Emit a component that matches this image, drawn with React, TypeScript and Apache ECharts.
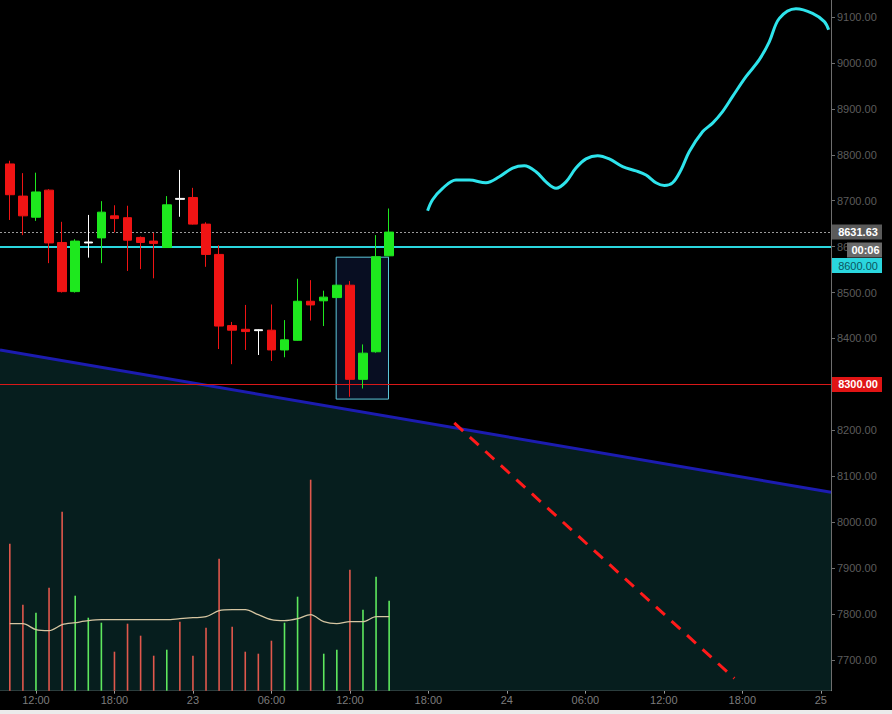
import React, { useEffect, useRef } from "react";
import * as echarts from "echarts";

// hours counted from 22nd 00:00
const HOURS = [10, 11, 12, 13, 14, 15, 16, 17, 18, 19, 20, 21, 22, 23, 24, 25, 26, 27, 28, 29, 30, 31, 32, 33, 34, 35, 36, 37, 38, 39];
const OPEN = [8780, 8710, 8664, 8723, 8609, 8502, 8610, 8619, 8667, 8663, 8620, 8612, 8598, 8705, 8707, 8649, 8583, 8428, 8420, 8419, 8418, 8375, 8396, 8481, 8482, 8489, 8516, 8311, 8371, 8580];
const CLOSE = [8713, 8667, 8719, 8608, 8502, 8612, 8608, 8675, 8661, 8614, 8609, 8607, 8691, 8703, 8649, 8583, 8427, 8418, 8415, 8417, 8375, 8397, 8481, 8473, 8490, 8516, 8311, 8368, 8578, 8631.63];
const LOW = [8658, 8625, 8656, 8564, 8500, 8500, 8576, 8564, 8631, 8547, 8551, 8531, 8597, 8665, 8648, 8556, 8377, 8344, 8375, 8364, 8351, 8359, 8395, 8439, 8427, 8488, 8273, 8291, 8369, 8579];
const HIGH = [8787, 8760, 8761, 8725, 8654, 8616, 8669, 8699, 8690, 8689, 8622, 8630, 8710, 8767, 8728, 8653, 8603, 8436, 8473, 8420, 8474, 8440, 8530, 8527, 8504, 8517, 8525, 8387, 8625, 8683];
const DOJI = [6, 13, 19];

const VOLUME = [147, 86, 78, 103, 179, 95, 73, 68, 39, 67, 55, 35, 41, 69, 35, 63, 132, 64, 39, 37, 50, 68, 94, 211, 37, 41, 121, 81, 114, 90];
const VOLUME_UP = [0, 0, 1, 0, 0, 1, 1, 1, 0, 0, 0, 0, 1, 0, 0, 0, 0, 0, 0, 0, 0, 1, 1, 0, 1, 1, 0, 1, 1, 1];
const VOLUME_MA = [67, 67, 61, 60, 66, 68, 70, 71, 71, 71, 71, 71, 71, 72, 73, 74, 80, 81, 81, 76, 71, 70, 72, 76, 69, 67, 69, 69, 74, 74];

const FORECAST_X = [41.94, 42.32, 43.09, 44.11, 45.13, 46.4, 47.42, 48.44, 49.33, 50.23, 50.99, 51.76, 52.52, 53.28, 54.05, 54.94, 55.83, 56.85, 57.87, 58.64, 59.4, 60.04, 60.67, 61.31, 61.95, 62.96, 63.73, 64.49, 65.26, 66.28, 67.3, 68.06, 68.83, 70.1, 71.37, 72.27, 72.6];
const FORECAST_Y = [8678, 8702, 8727, 8745, 8745, 8739, 8752, 8771, 8776, 8763, 8741, 8727, 8741, 8771, 8791, 8798, 8791, 8774, 8765, 8756, 8739, 8733, 8739, 8767, 8807, 8850, 8869, 8894, 8927, 8970, 9007, 9046, 9097, 9118, 9108, 9090, 9072];

const TREND_X = [9.25, 72.78];
const TREND_Y = [8375, 8065];
const PROJ_X = [43.98, 65.39];
const PROJ_Y = [8216, 7660];

const LAST_PRICE = 8631.63;
const ALERT_LEVEL = 8600;
const SUPPORT_LEVEL = 8300;
const TIMER = "00:06";
const BOX_X = [34.95, 38.95];
const BOX_Y = [8577, 8268];

const X_MIN = 9.25;
const X_MAX = 72.78;
const Y_MIN = 7633;
const Y_MAX = 9137;
const X_TICKS = [12, 18, 24, 30, 36, 42, 48, 54, 60, 66, 72];
const Y_TICKS = [7700, 7800, 7900, 8000, 8100, 8200, 8300, 8400, 8500, 8600, 8700, 8800, 8900, 9000, 9100];

const RED = "#f01414";
const GREEN = "#1ee81e";
const FONT = "'Liberation Sans', Arial, sans-serif";

function fmtHour(h: number): string {
  if (h % 24 === 0) return String(22 + h / 24);
  const hh = h % 24;
  return (hh < 10 ? "0" : "") + hh + ":00";
}

export default function App() {
  const ref = useRef<HTMLDivElement>(null);
  useEffect(() => {
    if (!ref.current) return;
    const chart = echarts.init(ref.current, null, { renderer: "svg" });

    const candleData = HOURS.map((h, i) => {
      const item: any = { value: [h, OPEN[i], CLOSE[i], LOW[i], HIGH[i]] };
      if (DOJI.includes(i)) {
        item.itemStyle = { color: "#ffffff", color0: "#ffffff", borderColor: "#ffffff", borderColor0: "#ffffff" };
      }
      return item;
    });
    const volData = HOURS.map((h, i) => ({
      value: [h, VOLUME[i]],
      itemStyle: { color: VOLUME_UP[i] ? "#5ee85e" : "#e0584c" },
    }));

    chart.setOption({
      animation: false,
      backgroundColor: "#000000",
      grid: { left: 0, top: 0, width: 831, height: 690.7 },
      xAxis: {
        type: "value",
        min: X_MIN,
        max: X_MAX,
        axisLine: { show: true, lineStyle: { color: "#9a9a9a", width: 1 } },
        axisTick: { show: true, customValues: X_TICKS, length: 3, lineStyle: { color: "#9a9a9a" } },
        axisLabel: {
          customValues: X_TICKS,
          formatter: (v: number) => fmtHour(v),
          color: "#7c7c7c",
          fontSize: 11,
          fontFamily: FONT,
          margin: 4,
        },
        splitLine: { show: false },
      },
      yAxis: [
        {
          type: "value",
          position: "right",
          min: Y_MIN,
          max: Y_MAX,
          axisLine: { show: true, lineStyle: { color: "#6e6e6e", width: 1 } },
          axisTick: { show: true, customValues: Y_TICKS, length: 4, lineStyle: { color: "#6e6e6e" } },
          axisLabel: {
            customValues: Y_TICKS,
            formatter: (v: number) => v.toFixed(2),
            color: "#5c5c5c",
            fontSize: 11,
            fontFamily: FONT,
            margin: 6,
          },
          splitLine: { show: false },
        },
        { type: "value", show: false, min: 0, max: 690.7 },
      ],
      series: [
        {
          type: "line",
          name: "trend",
          z: 1,
          data: TREND_X.map((x, i) => [x, TREND_Y[i]]),
          symbol: "none",
          lineStyle: { color: "#1c1cb0", width: 3 },
          areaStyle: { color: "#061e1e", opacity: 1, origin: "start" },
        },
        {
          type: "bar",
          name: "volume",
          yAxisIndex: 1,
          z: 2,
          barWidth: 1.6,
          data: volData,
        },
        {
          type: "line",
          name: "volumeMA",
          yAxisIndex: 1,
          z: 3,
          symbol: "none",
          smooth: 0.3,
          data: HOURS.map((h, i) => [h, VOLUME_MA[i]]),
          lineStyle: { color: "#d6c6a2", width: 1.3 },
        },
        {
          type: "candlestick",
          z: 5,
          barWidth: 9,
          data: candleData,
          itemStyle: { color: GREEN, color0: RED, borderColor: GREEN, borderColor0: RED, borderWidth: 1 },
          markArea: {
            silent: true,
            itemStyle: { color: "rgba(40,70,170,0.2)", borderColor: "#5ec8dc", borderWidth: 1 },
            data: [[{ coord: [BOX_X[0], BOX_Y[0]] }, { coord: [BOX_X[1], BOX_Y[1]] }]],
          },
        },
        {
          type: "line",
          name: "levels",
          z: 6,
          data: [],
          markLine: {
            silent: true,
            symbol: "none",
            label: { show: false },
            data: [
              { yAxis: LAST_PRICE, lineStyle: { color: "#9a9a9a", width: 1, type: [2, 2] } },
              { yAxis: ALERT_LEVEL, lineStyle: { color: "#2ad6de", width: 2, type: "solid" } },
              { yAxis: SUPPORT_LEVEL, lineStyle: { color: "#d81818", width: 1, type: "solid" } },
            ],
          },
        },
        {
          type: "line",
          name: "forecast",
          z: 7,
          symbol: "none",
          smooth: 0.35,
          data: FORECAST_X.map((x, i) => [x, FORECAST_Y[i]]),
          lineStyle: { color: "#2ee4ec", width: 3 },
        },
        {
          type: "line",
          name: "projection",
          z: 7,
          symbol: "none",
          data: PROJ_X.map((x, i) => [x, PROJ_Y[i]]),
          lineStyle: { color: "#ff1a1a", width: 3, type: [12, 9] },
        },
      ],
    });

    const yp = (v: number) => chart.convertToPixel({ yAxisIndex: 0 }, v) as number;
    const xr = chart.convertToPixel({ xAxisIndex: 0 }, X_MAX) as number;
    const box = (cy: number, x0: number, w: number, bg: string, txt: string, fg: string, bold: boolean) => ({
      type: "group",
      z: 100,
      children: [
        { type: "rect", z: 100, shape: { x: x0, y: cy - 7.5, width: w, height: 15 }, style: { fill: bg } },
        {
          type: "text",
          z: 101,
          x: x0 + w / 2 + 1,
          y: cy,
          style: {
            text: txt,
            fill: fg,
            font: (bold ? "bold " : "") + "11px " + FONT,
            textAlign: "center",
            textVerticalAlign: "middle",
          },
        },
      ],
    });
    const yLast = yp(LAST_PRICE);
    chart.setOption({
      graphic: [
        box(yLast, xr + 1, 50, "#5a5a5a", LAST_PRICE.toFixed(2), "#ffffff", true),
        box(yLast + 18, xr + 16, 35, "#6a6a6a", TIMER, "#ffffff", true),
        box(yp(ALERT_LEVEL) + 19, xr + 1, 50, "#2ad6de", ALERT_LEVEL.toFixed(2), "#0b5560", false),
        box(yp(SUPPORT_LEVEL), xr + 1, 50, "#e01414", SUPPORT_LEVEL.toFixed(2), "#ffffff", true),
      ],
    });

    return () => chart.dispose();
  }, []);

  return (
    <div style={{ position: "absolute", left: 0, top: 0, width: 892, height: 714, background: "#ebebeb" }}>
      <div ref={ref} style={{ width: 892, height: 710 }} />
    </div>
  );
}
